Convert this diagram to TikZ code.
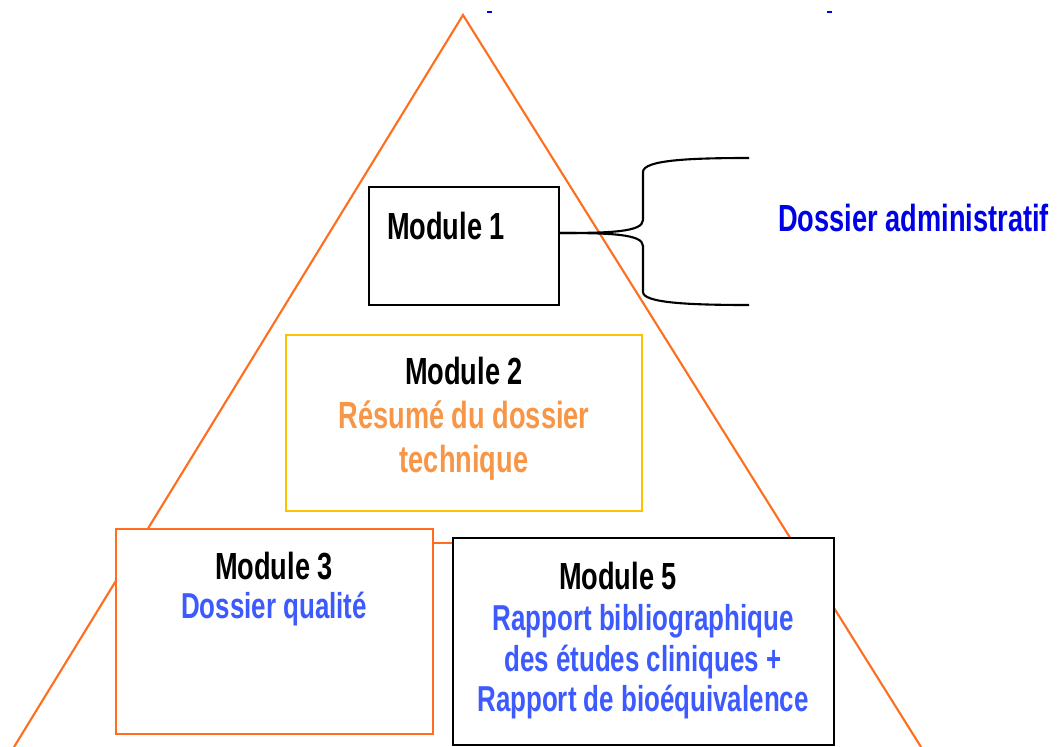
\documentclass[tikz,border=0pt]{standalone}
\usepackage{fontspec}
\setmainfont{Liberation Sans}[FakeStretch=0.72]
\usetikzlibrary{calc}
\usetikzlibrary{positioning}
\definecolor{pyrorange}{RGB}{255,110,30}
\definecolor{boxyellow}{RGB}{255,192,0}
\definecolor{textorange}{RGB}{247,150,70}
\definecolor{textblue}{RGB}{61,90,254}
\definecolor{adminblue}{RGB}{0,0,230}
\newcommand\bluefont{\fontsize{20.5}{23}\selectfont\color{textblue}}
\tikzset{modbox/.style = {draw, fill=white, line width=1.2pt, inner sep=0}}
\tikzset{modtext/.style = {font=\fontsize{21.5}{25}\selectfont\bfseries, align=center, inner sep=0}}

\begin{document}
\begin{tikzpicture}[x=0.02cm, y=-0.02cm]
  \useasboundingbox (0,0) rectangle (1059,747);

  % pyramid
  \coordinate (apex) at (463,15);
  \coordinate (bl) at (14,747);
  \coordinate (br) at (921,747);
  \draw [pyrorange, line width=1.2pt] (bl) -- (apex) -- (br);
  \draw [pyrorange, line width=1.2pt] ($(apex)!0.721!(bl)$) -- ($(apex)!0.721!(br)$);
  \draw [adminblue, line width=1pt] (487,12) -- (492,12);
  \draw [adminblue, line width=1pt] (827,12) -- (832,12);

  % modules
  \node (m1) [modbox, minimum width=3.8cm, minimum height=2.36cm] at (464,246) {};
  \node (m2) [modbox, draw=boxyellow, minimum width=7.12cm, minimum height=3.52cm] at (464,423) {};
  \node (m3) [modbox, draw=pyrorange, line width=1.5pt, minimum width=6.34cm, minimum height=4.1cm] at (274.5,631.5) {};
  \node (m5) [modbox, minimum width=7.62cm, minimum height=4.14cm] at (643.5,641.5) {};

  \node (t1) [modtext] at (446,226) {Module 1};
  \node (t2) [modtext] at (464,419) {Module 2\\ \textcolor{textorange}{Résumé du dossier}\\ \textcolor{textorange}{technique}};
  \node (t3) [modtext] at (274,566) {Module 3};
  \node (t3b) [modtext, font=\bluefont\bfseries] at (274,609) {Dossier qualité};
  \node (t5) [modtext] at (618,576) {Module 5};
  \node (t5b) [modtext, font=\bluefont\bfseries] at (643,662) {Rapport bibliographique\\ des études cliniques +\\ Rapport de bioéquivalence};

  % brace
  \coordinate (jn) at ([yshift=0.26cm]m1.east);
  \coordinate (bt) at (749,158);
  \coordinate (bb) at (749,305);
  \draw [line width=1.2pt] (jn) .. controls (610,233) and (643,232) .. (643,220) -- (643,172)
        .. controls (643,160) and (690,158) .. (bt);
  \draw [line width=1.2pt] (jn) .. controls (610,233) and (643,234) .. (643,246) -- (643,292)
        .. controls (643,303) and (690,305) .. (bb);
  \node (adm) [modtext, text=adminblue, anchor=west] at (778,218) {Dossier administratif};
\end{tikzpicture}
\end{document}
